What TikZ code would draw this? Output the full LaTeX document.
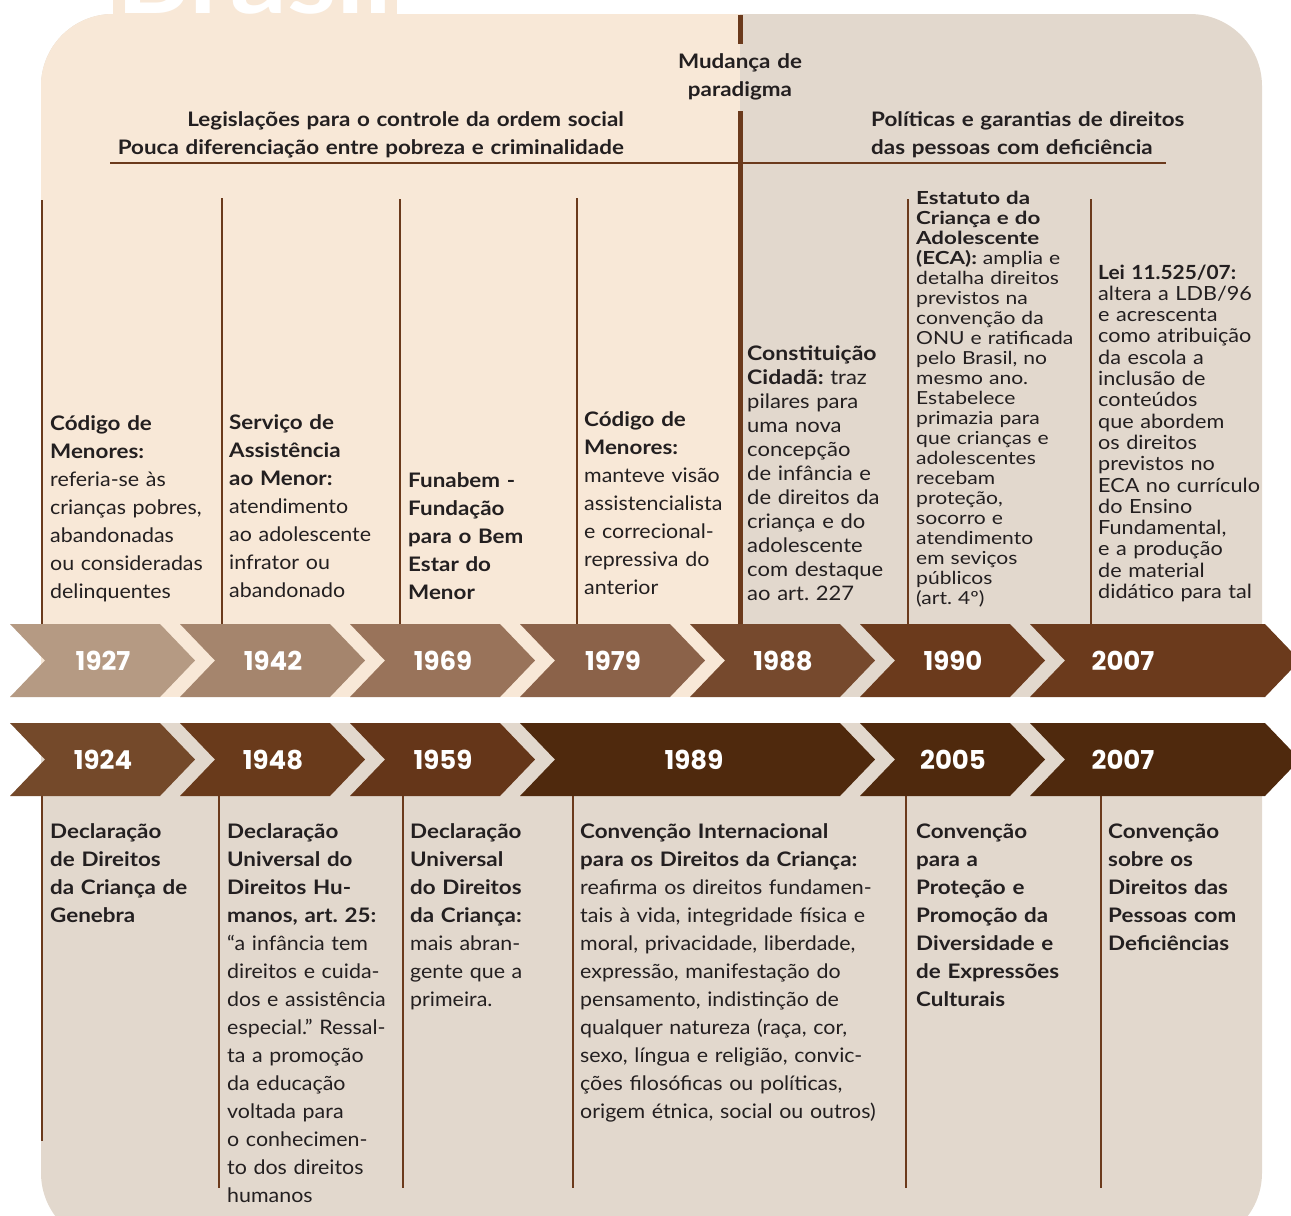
\documentclass[tikz,border=0pt]{standalone}
\usepackage{fontspec}
\setmainfont{Lato}[UprightFeatures={FakeStretch=1.07},BoldFeatures={FakeStretch=1.12}]
\newfontfamily\ecafont{Lato}[UprightFeatures={FakeStretch=1.17},BoldFeatures={FakeStretch=1.24}]
\newfontfamily\leifont{Lato}[UprightFeatures={FakeStretch=1.11},BoldFeatures={FakeStretch=1.07}]
\newfontfamily\cidfont{Lato}[UprightFeatures={FakeStretch=1.10},BoldFeatures={FakeStretch=1.15}]
\newfontfamily\yearfont{Poppins}
\usepackage{xcolor}
\usepackage{tikz}
\usetikzlibrary{positioning}
\frenchspacing
\definecolor{cream}{HTML}{F8E8D7}
\definecolor{sand}{HTML}{E2D8CD}
\definecolor{brownline}{HTML}{6B3A1C}
\definecolor{ink}{HTML}{231F20}
\definecolor{cA}{HTML}{B59A83}
\definecolor{cB}{HTML}{A5856D}
\definecolor{cC}{HTML}{99735A}
\definecolor{cD}{HTML}{8B6249}
\definecolor{cE}{HTML}{76492D}
\definecolor{cF}{HTML}{6B3A1C}
\definecolor{dA}{HTML}{74492A}
\definecolor{dB}{HTML}{693A1B}
\definecolor{dC}{HTML}{653619}
\definecolor{dD}{HTML}{4F290D}
\tikzset{
	year/.style={text=white,font=\yearfont\bfseries\fontsize{26}{26}\selectfont,inner sep=0pt},
	body/.style={text=ink,align=left,anchor=base west,inner sep=0pt,text width=#1,font=\fontsize{20}{28}\selectfont},
	body/.default=175,
	head/.style={text=ink,inner sep=0pt,font=\bfseries\fontsize{20}{28}\selectfont},
	colline/.style={brownline,line width=1.8pt}
}
\begin{document}
\begin{tikzpicture}[x=1pt,y=-1pt]
	\useasboundingbox (0,0) rectangle (1291,1216);
	\clip (0,0) rectangle (1291,1216);
	% title strip behind the panel
	\fill[cream] (113,0) rectangle (397,20);
	\node[text=white,font=\bfseries\fontsize{100}{100}\selectfont,inner sep=0pt,anchor=base west] (title) at (116,13) {Brasil};
	% panel
	\fill[sand,rounded corners=72pt] (41,14) rectangle (1262,1245);
	\begin{scope}
		\clip[rounded corners=72pt] (41,14) rectangle (1262,1245);
		\fill[cream] (0,0) rectangle (740,697);
	\end{scope}
	\fill[white] (0,697) rectangle (1291,723);
	% dividers
	\draw[brownline,line width=5pt] (740,15) -- (740,44);
	\draw[brownline,line width=5pt] (740,111) -- (740,624);
	\draw[brownline,line width=2.5pt] (110,163) -- (1166,163);
	\node[head,align=center,text width=200,anchor=base] (mudanca) at (740,68) {Mudança de\\paradigma};
	\node[head,align=right,text width=540,anchor=base east] (legis) at (624,126) {Legislações para o controle da ordem social\\Pouca diferenciação entre pobreza e criminalidade};
	\node[head,align=left,text width=360,anchor=base west] (politicas) at (871,126) {Políticas e garantias de direitos\\das pessoas com deficiência};
	% column lines
	\draw[colline] (42,200) -- (42,624);
	\draw[colline] (222,198) -- (222,624);
	\draw[colline] (400,199) -- (400,624);
	\draw[colline] (577,198) -- (577,624);
	\draw[colline] (908,199) -- (908,624);
	\draw[colline] (1091,199) -- (1091,624);
	\draw[colline] (42,796) -- (42,1141);
	\draw[colline] (219,796) -- (219,1188);
	\draw[colline] (403,796) -- (403,1188);
	\draw[colline] (573,796) -- (573,1188);
	\draw[colline] (906,796) -- (906,1188);
	\draw[colline] (1101,796) -- (1101,1188);
	% upper arrows
	\fill[cA] (10,624) -- ++(150,0) -- ++(35,36.5) -- ++(-35,36.5) -- ++(-150,0) -- ++(35,-36.5) -- cycle;
	\fill[cB] (180,624) -- ++(150,0) -- ++(35,36.5) -- ++(-35,36.5) -- ++(-150,0) -- ++(35,-36.5) -- cycle;
	\fill[cC] (350,624) -- ++(150,0) -- ++(35,36.5) -- ++(-35,36.5) -- ++(-150,0) -- ++(35,-36.5) -- cycle;
	\fill[cD] (520,624) -- ++(150,0) -- ++(35,36.5) -- ++(-35,36.5) -- ++(-150,0) -- ++(35,-36.5) -- cycle;
	\fill[cE] (690,624) -- ++(150,0) -- ++(35,36.5) -- ++(-35,36.5) -- ++(-150,0) -- ++(35,-36.5) -- cycle;
	\fill[cF] (860,624) -- ++(150,0) -- ++(35,36.5) -- ++(-35,36.5) -- ++(-150,0) -- ++(35,-36.5) -- cycle;
	\fill[cF] (1030,624) -- ++(235,0) -- ++(35,36.5) -- ++(-35,36.5) -- ++(-235,0) -- ++(35,-36.5) -- cycle;
	\node[year] (y1927) at (103,660.5) {1927};
	\node[year] (y1942) at (273,660.5) {1942};
	\node[year] (y1969) at (443,660.5) {1969};
	\node[year] (y1979) at (613,660.5) {1979};
	\node[year] (y1988) at (783,660.5) {1988};
	\node[year] (y1990) at (953,660.5) {1990};
	\node[year] (t2007) at (1123,660.5) {2007};
	% lower arrows
	\fill[dA] (10,723) -- ++(150,0) -- ++(35,36.5) -- ++(-35,36.5) -- ++(-150,0) -- ++(35,-36.5) -- cycle;
	\fill[dB] (180,723) -- ++(150,0) -- ++(35,36.5) -- ++(-35,36.5) -- ++(-150,0) -- ++(35,-36.5) -- cycle;
	\fill[dC] (350,723) -- ++(150,0) -- ++(35,36.5) -- ++(-35,36.5) -- ++(-150,0) -- ++(35,-36.5) -- cycle;
	\fill[dD] (520,723) -- ++(320,0) -- ++(35,36.5) -- ++(-35,36.5) -- ++(-320,0) -- ++(35,-36.5) -- cycle;
	\fill[dD] (860,723) -- ++(150,0) -- ++(35,36.5) -- ++(-35,36.5) -- ++(-150,0) -- ++(35,-36.5) -- cycle;
	\fill[dD] (1030,723) -- ++(235,0) -- ++(35,36.5) -- ++(-35,36.5) -- ++(-235,0) -- ++(35,-36.5) -- cycle;
	\node[year] (y1924) at (103,759.5) {1924};
	\node[year] (y1948) at (273,759.5) {1948};
	\node[year] (y1959) at (443,759.5) {1959};
	\node[year] (y1989) at (694,759.5) {1989};
	\node[year] (y2005) at (953,759.5) {2005};
	\node[year] (b2007) at (1123,759.5) {2007};
	% upper texts
	\node[body] (codigo27) at (50,430) {\textbf{Código de}\\\textbf{Menores:}\\referia-se às\\crianças pobres,\\abandonadas\\ou consideradas\\delinquentes};
	\node[body] (sam) at (229,429) {\textbf{Serviço de}\\\textbf{Assistência}\\\textbf{ao Menor:}\\atendimento\\ao adolescente\\infrator ou\\abandonado};
	\node[body] (funabem) at (408,487) {\textbf{Funabem -}\\\textbf{Fundação}\\\textbf{para o Bem}\\\textbf{Estar do}\\\textbf{Menor}};
	\node[body=160] (codigo79) at (584,426) {\textbf{Código de}\\\textbf{Menores:}\\manteve visão\\assistencialista\\e correcional-\\repressiva do\\anterior};
	\node[body=160,font=\cidfont\fontsize{20}{24}\selectfont] (constituicao) at (747,360) {\textbf{Constituição}\\\textbf{Cidadã:} traz\\pilares para\\uma nova\\concepção\\de infância e\\de direitos da\\criança e do\\adolescente\\com destaque\\ao art. 227};
	\node[body=185,font=\ecafont\fontsize{18}{20}\selectfont] (eca) at (916,204.5) {\textbf{Estatuto da}\\\textbf{Criança e do}\\\textbf{Adolescente}\\\textbf{(ECA):} amplia e\\detalha direitos\\previstos na\\convenção da\\ONU e ratificada\\pelo Brasil, no\\mesmo ano.\\Estabelece\\primazia para\\que crianças e\\adolescentes\\recebam\\proteção,\\socorro e\\atendimento\\em seviços\\públicos\\(art. 4º)};
	\node[body=185,font=\leifont\fontsize{19.5}{21.3}\selectfont] (lei) at (1098,279) {\textbf{Lei 11.525/07:}\\altera a LDB/96\\e acrescenta\\como atribuição\\da escola a\\inclusão de\\conteúdos\\que abordem\\os direitos\\previstos no\\ECA no currículo\\do Ensino\\Fundamental,\\e a produção\\de material\\didático para tal};
	% lower texts
	\node[body] (genebra) at (50,838) {\textbf{Declaração}\\\textbf{de Direitos}\\\textbf{da Criança de}\\\textbf{Genebra}};
	\node[body] (universal) at (227,838) {\textbf{Declaração}\\\textbf{Universal do}\\\textbf{Direitos Hu-}\\\textbf{manos, art. 25:}\\“a infância tem\\direitos e cuida-\\dos e assistência\\especial.” Ressal-\\ta a promoção\\da educação\\voltada para\\o conhecimen-\\to dos direitos\\humanos};
	\node[body=160] (crianca59) at (410,838) {\textbf{Declaração}\\\textbf{Universal}\\\textbf{do Direitos}\\\textbf{da Criança:}\\mais abran-\\gente que a\\primeira.};
	\node[body=320] (convencao) at (580,838) {\textbf{Convenção Internacional}\\\textbf{para os Direitos da Criança:}\\reafirma os direitos fundamen-\\tais à vida, integridade física e\\moral, privacidade, liberdade,\\expressão, manifestação do\\pensamento, indistinção de\\qualquer natureza (raça, cor,\\sexo, língua e religião, convic-\\ções filosóficas ou políticas,\\origem étnica, social ou outros)};
	\node[body] (diversidade) at (916,838) {\textbf{Convenção}\\\textbf{para a}\\\textbf{Proteção e}\\\textbf{Promoção da}\\\textbf{Diversidade e}\\\textbf{de Expressões}\\\textbf{Culturais}};
	\node[body=160] (deficiencia) at (1108,838) {\textbf{Convenção}\\\textbf{sobre os}\\\textbf{Direitos das}\\\textbf{Pessoas com}\\\textbf{Deficiências}};
\end{tikzpicture}
\end{document}
